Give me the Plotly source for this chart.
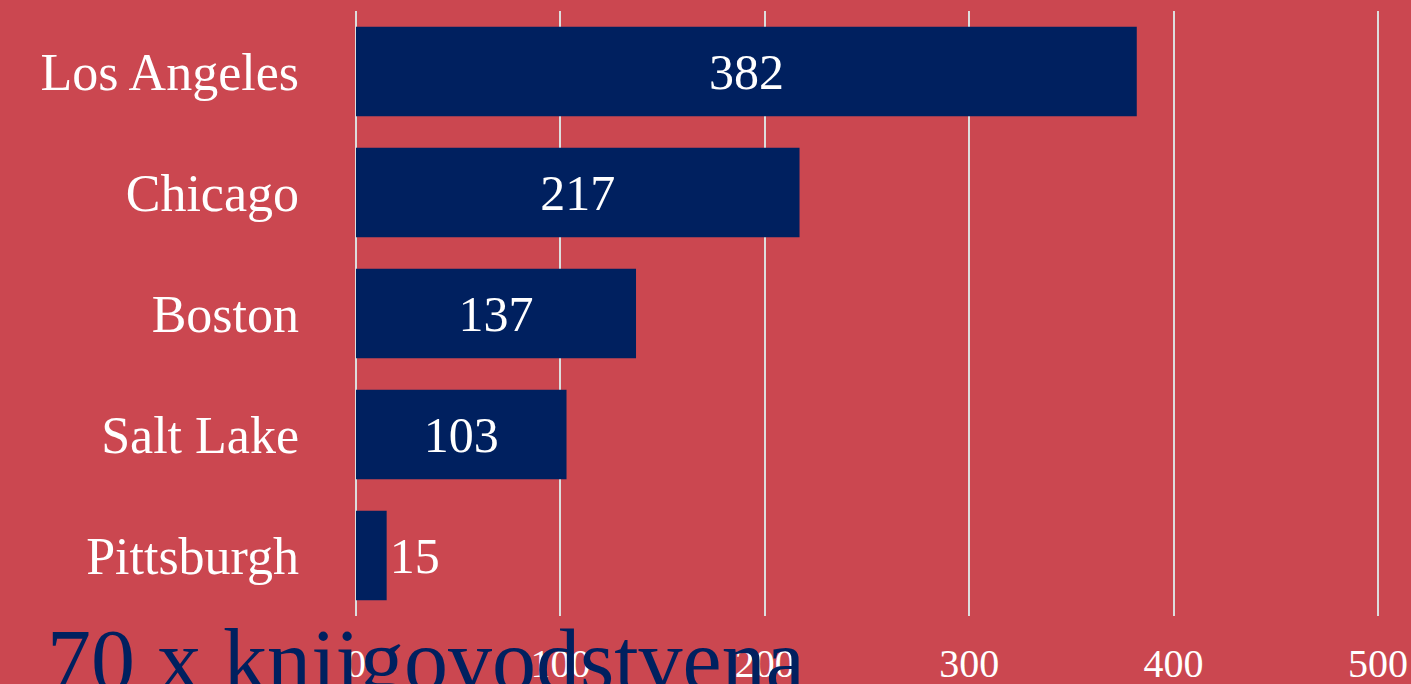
import plotly.graph_objects as go

cities = ["Los Angeles", "Chicago", "Boston", "Salt Lake", "Pittsburgh"]
counts = [382, 217, 137, 103, 15]
x_ticks = [0, 100, 200, 300, 400, 500]
title_text = "70 x knjigovodstvena"

BG = "#CB4750"
NAVY = "#00205F"
FONT = "Liberation Serif"

fig = go.Figure(go.Bar(
    x=counts, y=cities, orientation="h",
    marker=dict(color=NAVY, line=dict(width=0)),
    text=[str(c) for c in counts], textposition="auto",
    insidetextanchor="middle",
    textfont=dict(family=FONT, size=50, color="white"),
    outsidetextfont=dict(family=FONT, size=50, color="white"),
    insidetextfont=dict(family=FONT, size=50, color="white"),
    cliponaxis=False,
))

fig.update_layout(
    width=1411, height=684,
    paper_bgcolor=BG, plot_bgcolor=BG,
    margin=dict(l=356, r=31, t=11, b=68),
    bargap=0.26,
    showlegend=False,
    font=dict(family=FONT, color="white"),
    xaxis=dict(range=[0, 501], tickvals=x_ticks, showgrid=True,
               gridcolor="#DDDDDD", gridwidth=1.5, zeroline=True,
               zerolinecolor="#DDDDDD", zerolinewidth=1.5,
               tickfont=dict(family=FONT, size=40, color="white"),
               ticks="", ticklabelstandoff=20, automargin=False,
               fixedrange=True),
    yaxis=dict(categoryorder="array", categoryarray=cities[::-1],
               tickfont=dict(family=FONT, size=52, color="white"),
               ticks="", ticklabelstandoff=56, showgrid=False,
               automargin=False),
    annotations=[dict(text=title_text, xref="paper", yref="paper",
                      x=(45 - 356) / 1024, y=0.01, xanchor="left", yanchor="top",
                      showarrow=False,
                      font=dict(family=FONT, size=88, color=NAVY))],
)

fig.write_html("out.html")
